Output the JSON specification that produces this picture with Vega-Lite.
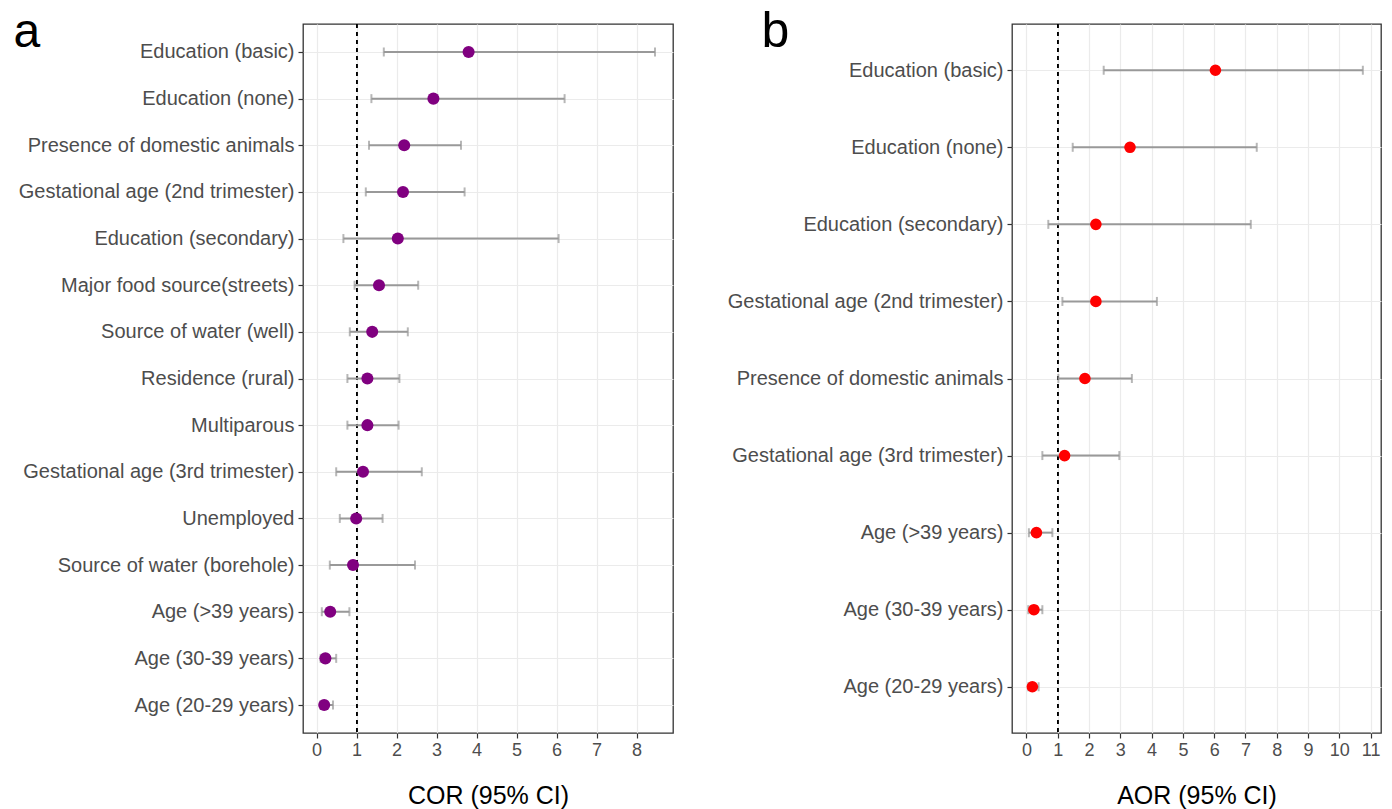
{
  "$schema": "https://vega.github.io/schema/vega-lite/v6.json",
  "padding": {"left": 12, "top": 5, "right": 11, "bottom": 2},
  "spacing": 47,
  "background": "#ffffff",
  "config": {
    "font": "Liberation Sans",
    "view": {"stroke": "#333333", "strokeWidth": 1.3},
    "axis": {
      "labelFont": "Liberation Sans",
      "titleFont": "Liberation Sans",
      "labelColor": "#4d4d4d",
      "tickColor": "#333333",
      "tickSize": 5,
      "tickWidth": 1.2,
      "domain": false,
      "grid": true,
      "gridColor": "#ebebeb",
      "gridWidth": 1.2,
      "titleFontWeight": "normal",
      "titleColor": "#000000",
      "labelOverlap": false
    }
  },
  "datasets": {
    "cor": [
      {"variable": "Education (basic)", "or": 3.80, "low": 1.68, "high": 8.46},
      {"variable": "Education (none)", "or": 2.92, "low": 1.37, "high": 6.20},
      {"variable": "Presence of domestic animals", "or": 2.19, "low": 1.31, "high": 3.61},
      {"variable": "Gestational age (2nd trimester)", "or": 2.16, "low": 1.23, "high": 3.70},
      {"variable": "Education (secondary)", "or": 2.03, "low": 0.67, "high": 6.05},
      {"variable": "Major food source(streets)", "or": 1.56, "low": 0.95, "high": 2.54},
      {"variable": "Source of water (well)", "or": 1.39, "low": 0.83, "high": 2.28},
      {"variable": "Residence (rural)", "or": 1.27, "low": 0.77, "high": 2.07},
      {"variable": "Multiparous", "or": 1.27, "low": 0.77, "high": 2.05},
      {"variable": "Gestational age (3rd trimester)", "or": 1.16, "low": 0.49, "high": 2.63},
      {"variable": "Unemployed", "or": 0.99, "low": 0.58, "high": 1.65},
      {"variable": "Source of water (borehole)", "or": 0.91, "low": 0.33, "high": 2.46},
      {"variable": "Age (>39 years)", "or": 0.34, "low": 0.13, "high": 0.82},
      {"variable": "Age (30-39 years)", "or": 0.22, "low": 0.10, "high": 0.49},
      {"variable": "Age (20-29 years)", "or": 0.19, "low": 0.09, "high": 0.41}
    ],
    "aor": [
      {"variable": "Education (basic)", "or": 6.04, "low": 2.47, "high": 10.75},
      {"variable": "Education (none)", "or": 3.31, "low": 1.48, "high": 7.36},
      {"variable": "Education (secondary)", "or": 2.22, "low": 0.70, "high": 7.17},
      {"variable": "Gestational age (2nd trimester)", "or": 2.22, "low": 1.15, "high": 4.17},
      {"variable": "Presence of domestic animals", "or": 1.87, "low": 1.02, "high": 3.37},
      {"variable": "Gestational age (3rd trimester)", "or": 1.22, "low": 0.51, "high": 2.97},
      {"variable": "Age (>39 years)", "or": 0.32, "low": 0.08, "high": 0.83},
      {"variable": "Age (30-39 years)", "or": 0.24, "low": 0.06, "high": 0.51},
      {"variable": "Age (20-29 years)", "or": 0.19, "low": 0.06, "high": 0.39}
    ]
  },
  "hconcat": [
    {
      "width": 370,
      "height": 709,
      "data": {"name": "cor"},
      "layer": [
        {
          "mark": {"type": "rule", "color": "#000000", "strokeDash": [4, 4], "strokeWidth": 1.1},
          "encoding": {"x": {"datum": 1, "type": "quantitative", "title": "COR (95% CI)",
            "axis": {"values": [0, 1, 2, 3, 4, 5, 6, 7, 8], "labelFontSize": 18, "labelPadding": 3, "labelFlush": false, "titleFontSize": 25, "titlePadding": 24}}}
        },
        {
          "mark": {"type": "rule", "color": "#999999", "strokeWidth": 2},
          "encoding": {
            "y": {"field": "variable", "type": "nominal", "sort": null, "title": "a"},
            "x": {"field": "low", "type": "quantitative", "title": "COR (95% CI)",
              "axis": {"values": [0, 1, 2, 3, 4, 5, 6, 7, 8], "labelFontSize": 18, "labelPadding": 3, "labelFlush": false, "titleFontSize": 25, "titlePadding": 24}},
            "x2": {"field": "high"}
          }
        },
        {
          "mark": {"type": "tick", "color": "#999999", "thickness": 2, "size": 9, "orient": "vertical"},
          "encoding": {
            "y": {"field": "variable", "type": "nominal", "sort": null, "title": "a"},
            "x": {"field": "low", "type": "quantitative", "title": "COR (95% CI)",
              "axis": {"values": [0, 1, 2, 3, 4, 5, 6, 7, 8], "labelFontSize": 18, "labelPadding": 3, "labelFlush": false, "titleFontSize": 25, "titlePadding": 24}}
          }
        },
        {
          "mark": {"type": "tick", "color": "#999999", "thickness": 2, "size": 9, "orient": "vertical"},
          "encoding": {
            "y": {"field": "variable", "type": "nominal", "sort": null, "title": "a"},
            "x": {"field": "high", "type": "quantitative", "title": "COR (95% CI)",
              "axis": {"values": [0, 1, 2, 3, 4, 5, 6, 7, 8], "labelFontSize": 18, "labelPadding": 3, "labelFlush": false, "titleFontSize": 25, "titlePadding": 24}}
          }
        },
        {
          "mark": {"type": "circle", "color": "#800080", "size": 145, "opacity": 1},
          "encoding": {
            "y": {
              "field": "variable", "type": "nominal", "sort": null, "title": "a",
              "scale": {"type": "point", "padding": 0.6},
              "axis": {
                "labelFontSize": 20, "labelPadding": 4, "labelLimit": 500,
                "minExtent": 290, "maxExtent": 290,
                "titleAngle": 0, "titleX": -290, "titleY": 22, "titleAlign": "left",
                "titleBaseline": "alphabetic", "titleFontSize": 48, "titleColor": "#000000"
              }
            },
            "x": {
              "field": "or", "type": "quantitative", "title": "COR (95% CI)",
              "scale": {"domain": [-0.34, 8.91], "nice": false, "zero": false},
              "axis": {"values": [0, 1, 2, 3, 4, 5, 6, 7, 8], "labelFontSize": 18, "labelPadding": 3, "labelFlush": false, "titleFontSize": 25, "titlePadding": 24}
            }
          }
        }
      ]
    },
    {
      "width": 369,
      "height": 709,
      "data": {"name": "aor"},
      "layer": [
        {
          "mark": {"type": "rule", "color": "#000000", "strokeDash": [4, 4], "strokeWidth": 1.1},
          "encoding": {"x": {"datum": 1, "type": "quantitative", "title": "AOR (95% CI)",
            "axis": {"values": [0, 1, 2, 3, 4, 5, 6, 7, 8, 9, 10, 11], "labelFontSize": 18, "labelPadding": 3, "labelFlush": false, "titleFontSize": 25, "titlePadding": 24}}}
        },
        {
          "mark": {"type": "rule", "color": "#999999", "strokeWidth": 2},
          "encoding": {
            "y": {"field": "variable", "type": "nominal", "sort": null, "title": "b"},
            "x": {"field": "low", "type": "quantitative", "title": "AOR (95% CI)",
              "axis": {"values": [0, 1, 2, 3, 4, 5, 6, 7, 8, 9, 10, 11], "labelFontSize": 18, "labelPadding": 3, "labelFlush": false, "titleFontSize": 25, "titlePadding": 24}},
            "x2": {"field": "high"}
          }
        },
        {
          "mark": {"type": "tick", "color": "#999999", "thickness": 2, "size": 9, "orient": "vertical"},
          "encoding": {
            "y": {"field": "variable", "type": "nominal", "sort": null, "title": "b"},
            "x": {"field": "low", "type": "quantitative", "title": "AOR (95% CI)",
              "axis": {"values": [0, 1, 2, 3, 4, 5, 6, 7, 8, 9, 10, 11], "labelFontSize": 18, "labelPadding": 3, "labelFlush": false, "titleFontSize": 25, "titlePadding": 24}}
          }
        },
        {
          "mark": {"type": "tick", "color": "#999999", "thickness": 2, "size": 9, "orient": "vertical"},
          "encoding": {
            "y": {"field": "variable", "type": "nominal", "sort": null, "title": "b"},
            "x": {"field": "high", "type": "quantitative", "title": "AOR (95% CI)",
              "axis": {"values": [0, 1, 2, 3, 4, 5, 6, 7, 8, 9, 10, 11], "labelFontSize": 18, "labelPadding": 3, "labelFlush": false, "titleFontSize": 25, "titlePadding": 24}}
          }
        },
        {
          "mark": {"type": "circle", "color": "#ff0000", "size": 135, "opacity": 1},
          "encoding": {
            "y": {
              "field": "variable", "type": "nominal", "sort": null, "title": "b",
              "scale": {"type": "point", "padding": 0.6},
              "axis": {
                "labelFontSize": 20, "labelPadding": 4, "labelLimit": 500,
                "minExtent": 290, "maxExtent": 290,
                "titleAngle": 0, "titleX": -251, "titleY": 22, "titleAlign": "left",
                "titleBaseline": "alphabetic", "titleFontSize": 50, "titleColor": "#000000"
              }
            },
            "x": {
              "field": "or", "type": "quantitative", "title": "AOR (95% CI)",
              "scale": {"domain": [-0.46, 11.33], "nice": false, "zero": false},
              "axis": {"values": [0, 1, 2, 3, 4, 5, 6, 7, 8, 9, 10, 11], "labelFontSize": 18, "labelPadding": 3, "labelFlush": false, "titleFontSize": 25, "titlePadding": 24}
            }
          }
        }
      ]
    }
  ]
}
